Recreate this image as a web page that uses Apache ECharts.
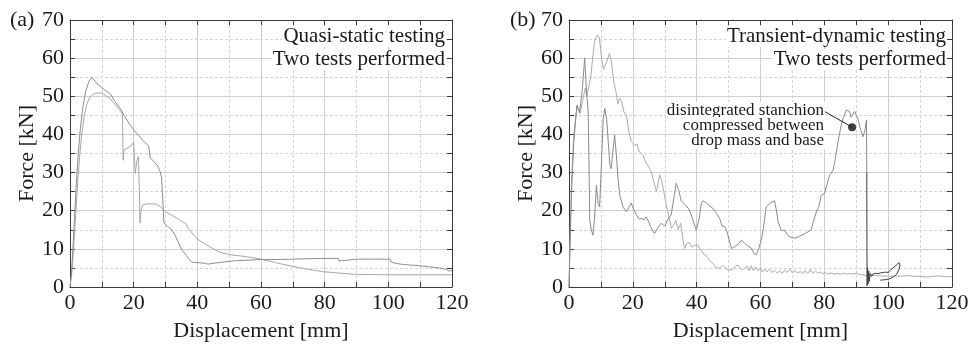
<!DOCTYPE html>
<html>
<head>
<meta charset="utf-8">
<script src="https://cdn.jsdelivr.net/npm/echarts@6/dist/echarts.min.js"></script>
<style>
  html, body { margin: 0; padding: 0; background: #fff; }
  #chart { width: 973px; height: 344px; }
</style>
</head>
<body>
<div id="chart"></div>
<script>
// Force–displacement curves of stanchion tests: [displacement mm, force kN]

// (a) quasi-static, test 1
const quasiTest1 = [
  [0,0],[0.4,3],[0.9,10],[1.4,18],[1.9,26],[2.5,34],[3.2,41],[4,47],[5,51.5],[6,54],[6.9,55],
  [7.5,54.3],[8.5,53.3],[10,52.2],[11.5,51.3],[12.7,50.6],[14,48.8],[15.8,46.8],[17,45],[18.5,43],
  [20,41.2],[21.5,39.8],[23,38.3],[24.7,37],[25,36.6],[25.2,33.8],[26,33.2],[27.5,31.8],[28.3,30.3],
  [28.8,28.5],[29.2,22],[29.5,16.8],[30.5,16],[32,15],[33,13.6],[34,11.8],[35.1,9.8],[36.5,8.3],
  [37.5,7.2],[38.3,6.5],[40,6.4],[42.5,6.2],[43,5.7],[43.3,6.0],[45,6.2],[48.7,6.6],[52,6.9],
  [55,7.0],[60,7.2],[65,7.2],[70,7.3],[74.4,7.4],[80,7.5],[84.3,7.5],[84.5,6.8],[85,7.2],[90,7.3],
  [95,7.3],[100.5,7.3],[101,6.5],[103,6.1],[104.7,5.9],[108,5.7],[113,5.3],[116,5.0],[118.3,4.6],
  [119,4.2],[120,4.3]
];

// (a) quasi-static, test 2
const quasiTest2 = [
  [0,0],[0.6,4],[1.2,11],[1.8,19],[2.4,27],[3,34],[3.7,40],[4.5,45],[5.3,48],[6.2,49.7],[7,50.3],
  [8,50.8],[9.5,50.9],[10.5,50.6],[12,49.8],[13.5,48.5],[15,47],[16,46],[16.5,45.3],[16.6,38],
  [16.7,33.2],[17,36],[18,36.4],[19.2,37],[20,38],[20.2,34.5],[20.5,29.8],[21,33],[21.5,34.2],
  [21.8,25],[22,16.8],[22.3,20],[22.8,21.5],[24,21.8],[26,21.8],[27.3,21.7],[28.5,21],[30,19.7],
  [32,18.8],[34,17.8],[35,17.3],[36.5,16.5],[37.2,15.3],[39,13.5],[40.4,12.3],[43,11],[45.6,9.7],
  [48,8.9],[50.8,8.4],[55,8.0],[60,7.3],[65,6.3],[70,5.4],[75,4.6],[79.6,4.0],[85,3.6],[90,3.3],
  [100,3.2],[110,3.2],[120,3.2]
];

// (b) transient-dynamic, test 1 (stanchion ends up crushed)
const dynamicTest1 = [
  [0,0],[0.3,10],[0.8,25],[1.5,38],[2.5,47.7],[3.3,45.8],[4.2,52],[4.9,60],[5.3,54],[5.6,50],[6,46],
  [6.3,30],[6.5,17.5],[7,15],[7.5,13.6],[8,18],[8.6,26.7],[9.1,22],[9.6,21],[10.2,33],[10.7,44],
  [11.2,46.8],[11.8,44],[12.3,38],[12.8,32],[13.2,31],[13.8,36],[14.3,39.8],[14.8,35],[15.4,28],
  [15.9,24.1],[16.9,21],[18,19.7],[18.7,20.8],[19.5,22],[20.2,20.5],[21.1,18.9],[22,17.8],[22.7,18],
  [23.5,17.6],[24.2,18.4],[25,17],[26,15],[26.8,14],[27.8,15.5],[28.9,16.7],[30,16],[31,17.8],
  [32,18.9],[33,24],[33.6,27.2],[34.3,25.5],[35.2,22.5],[36.5,21.5],[37.5,20.5],[38.3,18.9],
  [39.9,14.9],[40.8,18],[41.5,22.2],[42.3,22.6],[43,22],[44,21.3],[45.1,20.6],[46,19.5],[47.2,18],
  [48,16],[48.8,15.8],[49.5,14.5],[50.9,10.1],[51.8,10.5],[53,11.2],[54,12.3],[55,11.5],[56,10.8],
  [57,10.3],[58,8.7],[58.7,8.5],[59.4,10],[60.3,12.5],[61,16],[61.8,21],[62.9,21.9],[64.4,22.6],
  [65,20],[65.5,17.1],[66.5,14.8],[67.5,14.9],[68.6,13.5],[69.5,13],[70.7,12.8],[72,13.2],[73.9,14],
  [75.9,15],[76.5,17],[77.5,19.7],[78.2,20.8],[79,24],[80,24.5],[80.6,25],[81.7,29.4],[82.7,30.5],
  [83.3,33],[83.8,35.5],[84.5,39],[85.3,42.5],[86,44.5],[86.9,46.4],[87.4,46.8],[87.9,46],[88.4,44.5],
  [89,44.4],[89.5,46],[90,46.2],[90.6,44],[91.1,42],[92.1,39.4],[92.7,41],[93.2,43.8],[93.3,30]
];

// (b) transient-dynamic, test 1 after the drop: crushed material under the drop mass
const dynamicTest1Crushed = [
  [93.3,30],[93.35,10],[93.4,0.3],[93.55,5],[93.7,0.8],[93.9,4.2],[94.1,1.5],[94.4,3.6],[94.8,2.8],
  [95.2,3.4],[95.6,3.0],[96,3.6],[96.4,3.1],[96.8,3.5],[97.2,3.2],[97.6,3.7],[98,3.3],[98.4,3.8],
  [98.8,3.4],[99.2,3.9],[99.6,3.5],[100,3.8],[100.6,4.2],[101.2,4.8],[101.8,5.3],[102.4,5.6],[103,6.0],
  [103.4,6.4],[103.7,5.8],[103.4,4.6],[102.6,3.3],[101.6,2.6],[100.3,2.1],[99,1.9],[97.5,1.8]
];

// (b) transient-dynamic, test 2
const dynamicTest2 = [
  [0,0],[0.3,12],[0.8,28],[1.5,40],[2.5,47.5],[3.5,45.5],[4.3,49],[5.1,52.2],[5.6,50],[6.1,49.5],
  [6.8,55],[7.4,60],[8,64.5],[8.8,66],[9.5,65.5],[10.2,60],[10.8,57],[11.4,57.3],[12,59.5],[12.7,61.3],
  [13.3,59],[14,54],[14.8,50.8],[15.3,48],[15.9,49.5],[16.5,48.5],[17.2,46],[18,45],[18.7,41],
  [19.5,38.1],[20,38.5],[20.6,37.2],[21.3,37.5],[22,35.5],[22.6,35.5],[23.2,34.5],[24.2,32.4],
  [25,31.5],[25.8,30.2],[26.6,27.5],[27.4,25],[27.9,27],[28.4,29.4],[29,28],[29.5,25.9],[30.5,21.5],
  [31.3,18.5],[32.1,15.4],[33,16.5],[33.5,17.4],[34.2,15],[35,16.7],[35.6,13],[36.2,10.1],[37,11.5],
  [37.8,11.6],[38.4,10.5],[38.9,10.1],[39.6,11],[40.4,11],[41,10],[41.6,9.5],[42.5,8.4],[43.2,8],
  [44,7],[44.6,6.6],[45.3,6],[46,5.2],[46.7,4.9],[47.5,5.1],[48.2,5.7],[48.8,5.5],[49.5,4.6],
  [50.2,4.5],[50.9,4.4],[51.6,5],[52.3,5.6],[53,5.7],[53.7,4.9],[54.4,4.5],[55,4.9],[55.7,5.5],
  [56.4,4.3],[57.1,5.6],[57.8,4.2],[58.5,5.3],[59.2,4.2],[59.9,5.0],[60.6,3.9],[61.3,4.7],[62,4.0],
  [62.8,4.6],[63.6,3.8],[64.4,4.4],[65.2,3.7],[66,4.2],[66.8,3.6],[67.6,4.4],[68.4,3.8],[69.2,4.6],
  [70,3.7],[70.8,4.3],[71.6,3.6],[72.4,4.1],[73.2,3.6],[74,4.3],[74.8,3.5],[75.6,4.6],[76.4,3.6],
  [77.2,4.2],[78,3.6],[78.8,3.9],[79.6,3.5],[80.4,3.8],[81.2,3.4],[82,3.7],[83,3.4],[84,3.6],[85,3.3],
  [86,3.6],[87,3.4],[88,3.5],[89,3.4],[90,3.6],[91,3.3],[92,3.2],[93,3.0],[94,3.1],[96,3.0],[98,2.9],
  [100,2.8],[102,2.9],[104,2.8],[106,3.0],[108,2.8],[110,2.8],[112,2.6],[114,2.8],[116,2.9],[118,2.7],
  [120,2.7]
];

// marked state of the crushed stanchion and the start of its leader line
const stanchionPoint = [88.7, 41.9];
const stanchionLeaderStart = [80.1, 46.0];

// axis ranges and tick steps
const displacementRange = [0, 120];
const displacementStep = 20;
const forceRange = [0, 70];
const forceStep = 10;

const FONT = '"Liberation Serif", "Times New Roman", serif';
const TEXT = '#1a1a1a';
const FRAME = '#3a3a3a';

function bottomAxis(gridIndex) {
  return {
    type: 'value', gridIndex, position: 'bottom',
    min: displacementRange[0], max: displacementRange[1], interval: displacementStep,
    name: 'Displacement [mm]', nameLocation: 'middle', nameGap: 33,
    nameTextStyle: { fontFamily: FONT, fontSize: 22, color: TEXT },
    axisLine: { show: true, onZero: false, lineStyle: { color: FRAME, width: 1 } },
    axisTick: { show: true, inside: true, length: 5, lineStyle: { color: FRAME } },
    minorTick: { show: true, splitNumber: 2, length: 5, lineStyle: { color: FRAME } },
    axisLabel: { fontFamily: FONT, fontSize: 22, color: TEXT, margin: 5 },
    splitLine: { show: true, lineStyle: { color: '#cfcfcf', width: 1 } },
    minorSplitLine: { show: true, lineStyle: { color: '#d6d6d6', width: 1, type: [3, 2] } }
  };
}
function topAxis(gridIndex) {
  return {
    type: 'value', gridIndex, position: 'top',
    min: displacementRange[0], max: displacementRange[1], interval: displacementStep,
    axisLine: { show: true, onZero: false, lineStyle: { color: FRAME, width: 1 } },
    axisTick: { show: true, inside: true, length: 5, lineStyle: { color: FRAME } },
    minorTick: { show: true, splitNumber: 2, length: 5, lineStyle: { color: FRAME } },
    axisLabel: { show: false }, splitLine: { show: false }
  };
}
function leftAxis(gridIndex) {
  return {
    type: 'value', gridIndex, position: 'left',
    min: forceRange[0], max: forceRange[1], interval: forceStep,
    name: 'Force [kN]', nameLocation: 'middle', nameGap: 30, nameRotate: 90,
    nameTextStyle: { fontFamily: FONT, fontSize: 22, color: TEXT },
    axisLine: { show: true, onZero: false, lineStyle: { color: FRAME, width: 1 } },
    axisTick: { show: true, inside: true, length: 5, lineStyle: { color: FRAME } },
    minorTick: { show: true, splitNumber: 2, length: 5, lineStyle: { color: FRAME } },
    axisLabel: { fontFamily: FONT, fontSize: 22, color: TEXT, margin: 6 },
    splitLine: { show: true, lineStyle: { color: '#cfcfcf', width: 1 } },
    minorSplitLine: { show: true, lineStyle: { color: '#d6d6d6', width: 1, type: [3, 2] } }
  };
}
function rightAxis(gridIndex) {
  return {
    type: 'value', gridIndex, position: 'right',
    min: forceRange[0], max: forceRange[1], interval: forceStep,
    axisLine: { show: true, onZero: false, lineStyle: { color: FRAME, width: 1 } },
    axisTick: { show: true, inside: true, length: 5, lineStyle: { color: FRAME } },
    minorTick: { show: true, splitNumber: 2, length: 5, lineStyle: { color: FRAME } },
    axisLabel: { show: false }, splitLine: { show: false }
  };
}

function curve(data, xi, yi, color, z) {
  return {
    type: 'line', data, xAxisIndex: xi, yAxisIndex: yi,
    showSymbol: false, symbol: 'none', animation: false, z: z || 2,
    lineStyle: { color, width: 1 }
  };
}

function caption(text, right, y, size) {
  return {
    type: 'text', right, top: y, z: 100,
    style: {
      text, fill: TEXT, font: `${size}px ${FONT}`,
      textAlign: 'right', backgroundColor: '#fff', padding: [0, 1]
    }
  };
}

const chart = echarts.init(document.getElementById('chart'), null, { renderer: 'canvas' });

chart.setOption({
  backgroundColor: '#fff',
  animation: false,
  grid: [
    { left: 70, top: 20, width: 382, height: 267, outerBoundsMode: 'none', containLabel: false },
    { left: 569, top: 20, width: 383, height: 267, outerBoundsMode: 'none', containLabel: false }
  ],
  xAxis: [bottomAxis(0), topAxis(0), bottomAxis(1), topAxis(1)],
  yAxis: [leftAxis(0), rightAxis(0), leftAxis(1), rightAxis(1)],
  series: [
    curve(quasiTest2, 0, 0, '#a6a6a6'),
    curve(quasiTest1, 0, 0, '#8e8e8e'),
    curve(dynamicTest2, 2, 2, '#ababab'),
    curve(dynamicTest1, 2, 2, '#8a8a8a'),
    curve(dynamicTest1Crushed, 2, 2, '#3c3c3c', 3),
    {
      type: 'scatter', xAxisIndex: 2, yAxisIndex: 2, data: [stanchionPoint],
      symbolSize: 8, itemStyle: { color: '#111' }, z: 5, animation: false,
      markLine: {
        silent: true, symbol: 'none', animation: false,
        lineStyle: { color: '#222', width: 1, type: 'solid' }, label: { show: false },
        data: [[{ coord: stanchionLeaderStart }, { coord: stanchionPoint }]]
      }
    }
  ],
  graphic: [
    { type: 'text', left: 10, top: 9, style: { text: '(a)', fill: TEXT, font: `22px ${FONT}` } },
    { type: 'text', left: 510, top: 9, style: { text: '(b)', fill: TEXT, font: `22px ${FONT}` } },
    caption('Quasi-static testing', 527, 26, 21),
    caption('Two tests performed', 527, 49, 21),
    caption('Transient-dynamic testing', 26, 26, 21),
    caption('Two tests performed', 26, 49, 21),
    caption('disintegrated stanchion', 148, 102, 17),
    caption('compressed between', 148, 117, 17),
    caption('drop mass and base', 148, 132, 17)
  ]
});
</script>
</body>
</html>
